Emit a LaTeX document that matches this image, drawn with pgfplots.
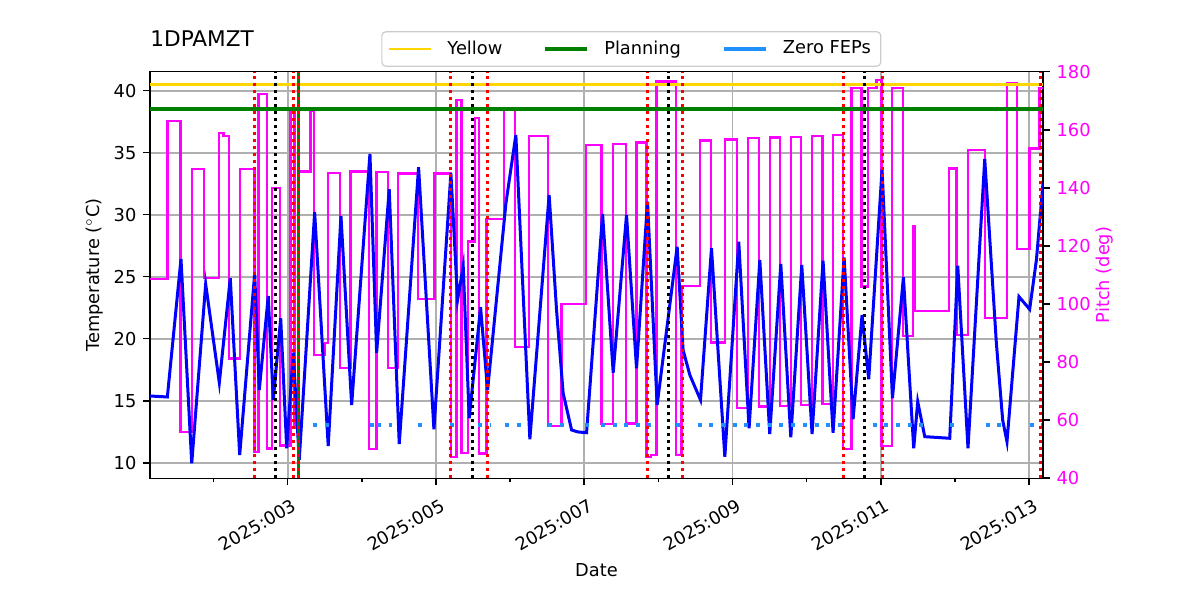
\documentclass[border=0pt]{standalone}
\usepackage{fontspec}
\setmainfont{DejaVu Sans}
\usepackage{pgfplots}
\usepackage{pgfplotstable}
\pgfplotsset{compat=1.18}

\definecolor{mgold}{HTML}{FFD700}
\definecolor{mgreen}{HTML}{008000}
\definecolor{dblue}{HTML}{1E90FF}
\definecolor{gridgray}{HTML}{B0B0B0}
\definecolor{mmag}{HTML}{FF00FF}
\definecolor{mblue}{HTML}{0000FF}

\pgfplotstableread{
x T
1.143 15.38
1.377 15.30
1.561 26.43
1.706 9.95
1.894 24.41
2.078 16.45
2.226 24.87
2.353 10.62
2.555 25.27
2.617 15.86
2.738 23.44
2.806 15.06
2.906 21.65
2.987 11.16
3.076 18.87
3.156 10.22
3.364 30.19
3.547 11.35
3.719 29.90
3.863 14.65
4.110 34.90
4.200 18.87
4.370 32.05
4.505 11.51
4.766 33.82
4.973 12.69
5.202 33.34
5.292 23.12
5.368 25.86
5.449 13.58
5.602 22.53
5.697 15.86
5.944 30.92
6.078 36.43
6.267 11.89
6.527 31.59
6.627 22.31
6.716 15.60
6.830 12.64
6.915 12.48
7.032 12.42
7.248 30.06
7.391 17.26
7.571 29.98
7.706 17.61
7.854 31.05
7.984 14.65
8.254 27.42
8.334 19.09
8.425 17.07
8.569 15.06
8.717 27.29
8.897 10.48
9.085 27.82
9.224 12.77
9.369 26.35
9.503 12.31
9.652 26.02
9.787 12.05
9.935 25.94
10.074 12.31
10.222 26.29
10.357 12.42
10.506 26.56
10.627 13.50
10.748 21.91
10.838 16.73
11.018 33.66
11.158 15.19
11.306 24.95
11.445 11.16
11.499 14.92
11.594 12.10
11.931 11.97
12.039 25.89
12.177 11.16
12.403 34.49
12.560 19.63
12.645 13.44
12.703 11.69
12.865 23.39
13.009 22.37
13.100 26.35
13.189 32.53
}\temptable

\pgfplotstableread{
x P
1.143 108.6
1.377 163.1
1.557 56.0
1.706 146.4
1.875 108.9
2.074 158.8
2.132 157.9
2.208 81.3
2.353 146.4
2.550 49.1
2.606 172.4
2.721 50.3
2.792 140.0
2.896 51.3
3.038 166.2
3.092 57.3
3.156 145.6
3.310 166.5
3.355 82.5
3.503 86.5
3.547 145.2
3.705 77.9
3.850 145.6
4.100 50.0
4.200 145.4
4.357 77.9
4.491 145.0
4.761 101.7
4.980 145.0
5.202 47.4
5.279 170.3
5.346 48.8
5.435 121.5
5.526 164.0
5.584 48.6
5.683 129.2
5.917 167.5
6.065 85.3
6.258 157.9
6.514 58.0
6.695 100.0
7.022 154.8
7.234 58.6
7.391 155.1
7.562 58.9
7.706 155.6
7.841 47.4
7.899 48.0
7.976 176.6
8.236 48.0
8.313 106.2
8.560 156.3
8.708 86.7
8.897 156.7
9.063 64.3
9.211 157.1
9.359 64.7
9.503 157.3
9.638 64.9
9.787 157.6
9.922 65.2
10.074 157.9
10.214 65.6
10.357 158.2
10.492 50.0
10.605 174.3
10.740 106.0
10.829 174.3
10.942 177.2
11.010 51.1
11.153 174.3
11.301 89.0
11.436 126.9
11.459 97.7
11.921 146.7
12.021 89.3
12.177 153.1
12.403 95.1
12.703 176.2
12.838 118.9
13.009 153.6
13.144 174.3
13.189 174.3
}\pitchtable

\pgfplotstableread{
x y
3.341 13
3.557 13
nan nan
4.110 13
4.164 13
nan nan
4.204 13
4.406 13
nan nan
4.757 13
4.811 13
nan nan
5.189 13
5.243 13
nan nan
5.566 13
5.728 13
nan nan
5.930 13
6.145 13
nan nan
6.510 13
6.739 13
nan nan
7.009 13
7.063 13
nan nan
7.225 13
7.899 13
nan nan
8.237 13
8.345 13
nan nan
8.529 13
10.576 13
nan nan
10.891 13
11.578 13
nan nan
11.930 13
12.066 13
nan nan
12.416 13
12.632 13
nan nan
13.009 13
13.171 13
}\feptable

\begin{document}
\begin{tikzpicture}[font=\fontsize{8.9}{10.7}\selectfont]
\pgfplotsset{
  base/.style={
    scale only axis, width=446.5pt, height=203.3pt,
    at={(75pt,60.85pt)}, anchor=south west,
    xmin=1.143, xmax=13.189,
    /pgf/number format/assume math mode=true,
    tick label style={font=\fontsize{8.9}{10.7}\selectfont},
  },
  vred/.style={red, line width=1.5pt, dash pattern=on 1.5pt off 2pt, forget plot},
  vblk/.style={black, line width=1.5pt, dash pattern=on 1.5pt off 2pt, forget plot},
}
% Layer 1: frame, grid, ticks, labels (temperature)
\begin{axis}[base, ymin=8.742, ymax=41.532,
  axis line style={line width=0.8pt},
  xtick={3,5,7,9,11,13},
  xticklabels={2025:003,2025:005,2025:007,2025:009,2025:011,2025:013},
  minor xtick={2,4,6,8,10,12},
  ytick={10,15,20,25,30,35,40},
  grid=major, major grid style={gridgray, line width=0.9pt},
  tick align=outside, xtick pos=bottom, ytick pos=left,
  major tick length=3.3pt, minor tick length=2pt,
  major tick style={black, line width=0.8pt},
  minor tick style={black, line width=0.8pt},
  xticklabel style={xshift=2.5pt, yshift=-3.5pt, rotate=30, anchor=north east, inner sep=2pt},
  xlabel={Date}, ylabel={Temperature ($^\circ$C)},
  every axis x label/.style={at={(axis description cs:0.5,-0.2255)}, anchor=center},
  every axis y label/.style={at={(axis description cs:-0.0616,0.5)}, rotate=90, anchor=center},
  title={1DPAMZT},
  title style={at={(axis description cs:0,1.033)}, anchor=base west, inner sep=0pt, font=\fontsize{10.8}{13}\selectfont},
]
\end{axis}
% Layer 2: pitch
\begin{axis}[base, ymin=40, ymax=180,
  axis line style={draw=none},
  xtick=\empty, ytick={40,60,80,100,120,140,160,180},
  tick align=outside, ytick pos=right,
  major tick length=3.3pt,
  major tick style={black, line width=0.8pt},
  yticklabel style={text=mmag},
  ylabel={Pitch (deg)},
  every axis y label/.style={at={(axis description cs:1.0694,0.5)}, rotate=90, anchor=center, text=mmag},
]
\addplot[mmag, line width=1.2pt, const plot, forget plot] table[x=x, y=P] {\pitchtable};
\end{axis}
% Layer 3: temperature data and reference lines
\begin{axis}[base, ymin=8.742, ymax=41.532, hide axis,
  unbounded coords=jump,
  legend style={at={(axis description cs:0.539,1.0558)}, anchor=center,
    legend columns=3, draw=black!20, rounded corners=2pt, line width=0.6pt,
    inner xsep=3pt, inner ysep=2.5pt, font=\fontsize{8.9}{10.7}\selectfont,
    /tikz/every even column/.append style={column sep=18.5pt},
    /tikz/every odd column/.append style={column sep=5.5pt}},
  legend cell align=left,
  legend image code/.code={\draw[#1] (0pt,0pt) -- (21pt,0pt);},
]
\addplot[mblue, line width=1.5pt, forget plot] table[x=x, y=T] {\temptable};
\addplot[dblue, line width=2pt, dash pattern=on 2pt off 3.85pt, forget plot] table[x=x, y=y] {\feptable};
\addplot[mgold, line width=1.3pt, forget plot] coordinates {(1.143,40.5) (13.189,40.5)};
\addplot[mgreen, line width=2.2pt, forget plot] coordinates {(1.143,38.5) (13.189,38.5)};
\addplot[mgreen, line width=1.5pt, forget plot] coordinates {(3.146,8.742) (3.146,41.532)};
\addplot[vred] coordinates {(2.550,8.742) (2.550,41.532)};
\addplot[vred] coordinates {(3.076,8.742) (3.076,41.532)};
\addplot[vred] coordinates {(3.146,8.742) (3.146,41.532)};
\addplot[vred] coordinates {(5.202,8.742) (5.202,41.532)};
\addplot[vred] coordinates {(5.697,8.742) (5.697,41.532)};
\addplot[vred] coordinates {(7.854,8.742) (7.854,41.532)};
\addplot[vred] coordinates {(8.321,8.742) (8.321,41.532)};
\addplot[vred] coordinates {(10.492,8.742) (10.492,41.532)};
\addplot[vred] coordinates {(11.018,8.742) (11.018,41.532)};
\addplot[vred] coordinates {(13.154,8.742) (13.154,41.532)};
\addplot[vblk] coordinates {(2.842,8.742) (2.842,41.532)};
\addplot[vblk] coordinates {(5.489,8.742) (5.489,41.532)};
\addplot[vblk] coordinates {(8.132,8.742) (8.132,41.532)};
\addplot[vblk] coordinates {(10.775,8.742) (10.775,41.532)};
\addlegendimage{mgold, line width=1.3pt}
\addlegendentry{Yellow}
\addlegendimage{mgreen, line width=2pt}
\addlegendentry{Planning}
\addlegendimage{dblue, line width=2pt}
\addlegendentry{Zero FEPs}
\end{axis}
\pgfresetboundingbox
\path[use as bounding box] (0,0) rectangle (600pt,300pt);
\end{tikzpicture}
\end{document}
